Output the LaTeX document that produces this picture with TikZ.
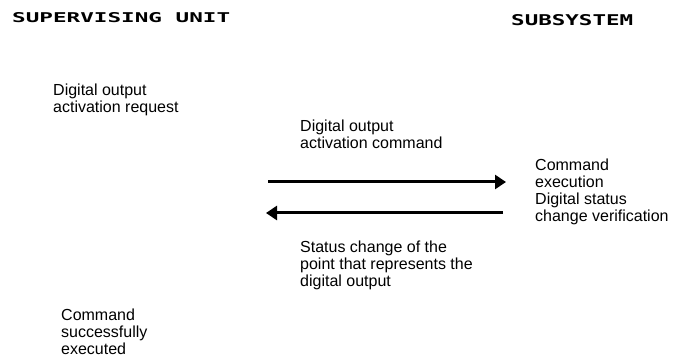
\documentclass[tikz,border=0pt]{standalone}
\usepackage{fontspec}
\usepackage{graphicx}
\setmainfont{Liberation Sans}
\setmonofont{DejaVu Sans Mono}
\usetikzlibrary{arrows.meta}
\tikzset{
  txt/.style={anchor=base west, inner sep=0pt, align=left, font=\fontsize{16}{17}\selectfont},
  head/.style={anchor=base west, inner sep=0pt},
  flow/.style={line width=3pt, -{Triangle[length=11pt,width=14pt]}}
}
\begin{document}
\begin{tikzpicture}[x=1pt,y=1pt]
\useasboundingbox (0,0) rectangle (675,-363);
\node[head] (su) at (12,-23) {\resizebox{218pt}{10pt}{\ttfamily\bfseries SUPERVISING UNIT}};
\node[head] (ss) at (511,-26) {\resizebox{122pt}{11pt}{\ttfamily\bfseries SUBSYSTEM}};
\node[txt] (req) at (53,-96) {Digital output};
\node[txt] (req2) at (53,-113) {activation request};
\node[txt] (cmd) at (300,-132) {Digital output};
\node[txt] (cmd2) at (300,-149) {activation command};
\node[txt] (ex1) at (535,-171) {Command};
\node[txt] (ex2) at (535,-188) {execution};
\node[txt] (ex3) at (535,-205) {Digital status};
\node[txt] (ex4) at (535,-222) {change verification};
\node[txt] (st1) at (300,-253) {Status change of the};
\node[txt] (st2) at (300,-270) {point that represents the};
\node[txt] (st3) at (300,-287) {digital output};
\node[txt] (ok1) at (61,-321) {Command};
\node[txt] (ok2) at (61,-338) {successfully};
\node[txt] (ok3) at (61,-355) {executed};
\coordinate (a1s) at (268,-182);
\coordinate (a1e) at (506,-182);
\coordinate (a2s) at (503,-213);
\coordinate (a2e) at (266,-213);
\draw[flow] (a1s) -- (a1e);
\draw[flow] (a2s) -- (a2e);
\end{tikzpicture}
\end{document}
